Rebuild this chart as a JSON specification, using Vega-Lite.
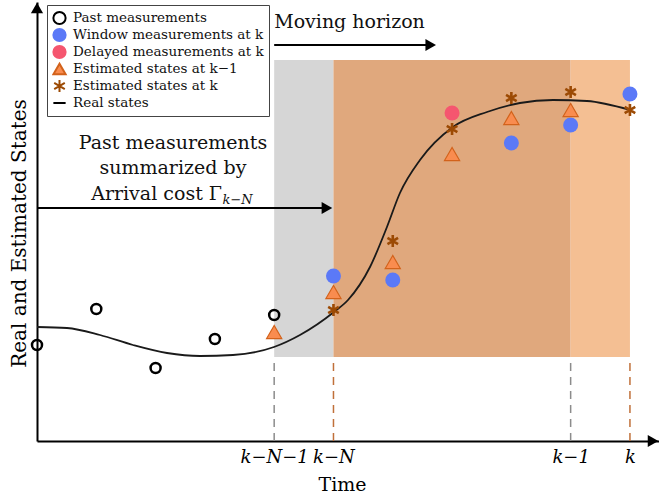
{
  "$schema": "https://vega.github.io/schema/vega-lite/v6.json",
  "width": 622,
  "height": 439,
  "autosize": {"type": "none"},
  "padding": {"left": 37, "top": 2, "right": 0, "bottom": 61},
  "background": "white",
  "config": {
    "view": {"stroke": null},
    "axis": {"grid": false, "ticks": false, "domainColor": "black", "domainWidth": 2, "titleFont": "DejaVu Serif", "titleFontWeight": "normal", "titleColor": "black", "labelColor": "black", "labelFont": "DejaVu Serif"},
    "legend": {"labelFont": "DejaVu Serif", "labelFontSize": 13.5, "labelColor": "#111", "clipHeight": 16, "rowPadding": 1, "symbolSize": 150, "symbolStrokeWidth": 2, "labelOffset": 6, "labelLimit": 300, "padding": 5, "strokeColor": "#444", "fillColor": "white"}
  },
  "datasets": {
    "pts": [
      {"t": 0, "v": 96, "s": "Past measurements"},
      {"t": 1, "v": 132, "s": "Past measurements"},
      {"t": 2, "v": 73, "s": "Past measurements"},
      {"t": 3, "v": 102, "s": "Past measurements"},
      {"t": 4, "v": 126, "s": "Past measurements"},
      {"t": 5, "v": 165, "s": "Window measurements at k"},
      {"t": 6, "v": 161, "s": "Window measurements at k"},
      {"t": 8, "v": 298, "s": "Window measurements at k"},
      {"t": 9, "v": 316, "s": "Window measurements at k"},
      {"t": 10, "v": 347, "s": "Window measurements at k"},
      {"t": 7, "v": 328, "s": "Delayed measurements at k"},
      {"t": 4, "v": 109, "s": "Estimated states at k−1"},
      {"t": 5, "v": 149, "s": "Estimated states at k−1"},
      {"t": 6, "v": 179, "s": "Estimated states at k−1"},
      {"t": 7, "v": 287, "s": "Estimated states at k−1"},
      {"t": 8, "v": 323, "s": "Estimated states at k−1"},
      {"t": 9, "v": 331, "s": "Estimated states at k−1"},
      {"t": 5, "v": 131, "s": "Estimated states at k"},
      {"t": 6, "v": 200, "s": "Estimated states at k"},
      {"t": 7, "v": 312, "s": "Estimated states at k"},
      {"t": 8, "v": 343, "s": "Estimated states at k"},
      {"t": 9, "v": 349, "s": "Estimated states at k"},
      {"t": 10, "v": 331, "s": "Estimated states at k"}
    ],
    "curve": [
      {"t": 0, "v": 114}, {"t": 0.506, "v": 113}, {"t": 1.062, "v": 106}, {"t": 1.619, "v": 96},
      {"t": 2.192, "v": 88}, {"t": 2.749, "v": 85}, {"t": 3.305, "v": 86}, {"t": 3.997, "v": 94},
      {"t": 4.435, "v": 106}, {"t": 5.008, "v": 129}, {"t": 5.245, "v": 141}, {"t": 5.616, "v": 174},
      {"t": 5.902, "v": 214}, {"t": 6.121, "v": 248}, {"t": 6.459, "v": 281}, {"t": 7.015, "v": 314},
      {"t": 7.589, "v": 329}, {"t": 8.145, "v": 338}, {"t": 8.702, "v": 341}, {"t": 9.275, "v": 340},
      {"t": 10.0, "v": 331}
    ],
    "regions": [
      {"t": 4, "t2": 5, "v": 84, "v2": 381, "r": "prev"},
      {"t": 5, "t2": 9, "v": 84, "v2": 381, "r": "both"},
      {"t": 9, "t2": 10, "v": 84, "v2": 381, "r": "curr"}
    ],
    "dashes": [
      {"t": 4, "v": 0, "v2": 84, "r": "g"},
      {"t": 5, "v": 0, "v2": 84, "r": "o"},
      {"t": 9, "v": 0, "v2": 84, "r": "g"},
      {"t": 10, "v": 0, "v2": 84, "r": "o"}
    ],
    "arrows": [
      {"t": 4, "t2": 6.6, "v": 396},
      {"t": 0, "t2": 4.85, "v": 233}
    ],
    "heads": [
      {"t": 6.64, "v": 396, "d": "r"},
      {"t": 4.89, "v": 233, "d": "r"},
      {"t": 10.39, "v": 0, "d": "r"},
      {"t": 0, "v": 433, "d": "u"}
    ]
  },
  "layer": [
    {
      "data": {"name": "regions"},
      "mark": {"type": "rect"},
      "encoding": {
        "x": {"field": "t", "type": "quantitative", "scale": {"domain": [0, 10.49], "nice": false, "zero": false},
              "axis": {"values": [4, 5, 9, 10], "labelExpr": "datum.value == 4 ? 'k−N−1' : datum.value == 5 ? 'k−N' : datum.value == 9 ? 'k−1' : 'k'", "labelFontStyle": "italic", "labelFontSize": 18, "labelPadding": 7, "title": "Time", "titleFontSize": 19, "titlePadding": 9, "titleX": 305}},
        "x2": {"field": "t2"},
        "y": {"field": "v", "type": "quantitative", "scale": {"domain": [0, 439], "nice": false},
              "axis": {"values": [], "labels": false, "title": "Real and Estimated States", "titleFontSize": 20, "titlePadding": 8, "titleY": 231}},
        "y2": {"field": "v2"},
        "color": {"field": "r", "type": "nominal", "scale": {"domain": ["prev", "both", "curr", "g", "o"], "range": ["#d6d6d6", "#e0a87d", "#f4bf93", "#8c8c8c", "#c0703a"]}, "legend": null}
      }
    },
    {
      "data": {"name": "dashes"},
      "mark": {"type": "rule", "strokeDash": [8, 6], "strokeWidth": 1.5},
      "encoding": {
        "x": {"field": "t", "type": "quantitative"},
        "y": {"field": "v", "type": "quantitative"},
        "y2": {"field": "v2"},
        "color": {"field": "r", "type": "nominal", "legend": null}
      }
    },
    {
      "data": {"name": "curve"},
      "mark": {"type": "line", "color": "#1a1a1a", "strokeWidth": 1.8, "interpolate": "monotone"},
      "encoding": {
        "x": {"field": "t", "type": "quantitative"},
        "y": {"field": "v", "type": "quantitative"}
      }
    },
    {
      "data": {"name": "arrows"},
      "mark": {"type": "rule", "color": "black", "strokeWidth": 2},
      "encoding": {
        "x": {"field": "t", "type": "quantitative"},
        "x2": {"field": "t2"},
        "y": {"field": "v", "type": "quantitative"}
      }
    },
    {
      "data": {"name": "heads"},
      "transform": [{"filter": "datum.d == 'r'"}],
      "mark": {"type": "point", "shape": "triangle-right", "filled": true, "color": "black", "opacity": 1, "size": 150},
      "encoding": {
        "x": {"field": "t", "type": "quantitative"},
        "y": {"field": "v", "type": "quantitative"}
      }
    },
    {
      "data": {"name": "heads"},
      "transform": [{"filter": "datum.d == 'u'"}],
      "mark": {"type": "point", "shape": "triangle-up", "filled": true, "color": "black", "opacity": 1, "size": 150},
      "encoding": {
        "x": {"field": "t", "type": "quantitative"},
        "y": {"field": "v", "type": "quantitative"}
      }
    },
    {
      "data": {"values": [{"t": 4, "v": 419, "label": "Moving horizon"}]},
      "mark": {"type": "text", "align": "left", "baseline": "middle", "font": "DejaVu Serif", "fontSize": 19, "color": "#111"},
      "encoding": {
        "x": {"field": "t", "type": "quantitative"},
        "y": {"field": "v", "type": "quantitative"},
        "text": {"field": "label"}
      }
    },
    {
      "data": {"values": [
        {"t": 2.293, "v": 298, "label": "Past measurements"},
        {"t": 2.293, "v": 273, "label": "summarized by"}
      ]},
      "mark": {"type": "text", "align": "center", "baseline": "middle", "font": "DejaVu Serif", "fontSize": 19, "color": "#111"},
      "encoding": {
        "x": {"field": "t", "type": "quantitative"},
        "y": {"field": "v", "type": "quantitative"},
        "text": {"field": "label"}
      }
    },
    {
      "data": {"values": [{"t": 3.12, "v": 247, "label": "Arrival cost Γ"}]},
      "mark": {"type": "text", "align": "right", "baseline": "middle", "font": "DejaVu Serif", "fontSize": 19, "color": "#111"},
      "encoding": {
        "x": {"field": "t", "type": "quantitative"},
        "y": {"field": "v", "type": "quantitative"},
        "text": {"field": "label"}
      }
    },
    {
      "data": {"values": [{"t": 3.13, "v": 241, "label": "k−N"}]},
      "mark": {"type": "text", "align": "left", "baseline": "middle", "font": "DejaVu Serif", "fontSize": 13, "fontStyle": "italic", "color": "#111"},
      "encoding": {
        "x": {"field": "t", "type": "quantitative"},
        "y": {"field": "v", "type": "quantitative"},
        "text": {"field": "label"}
      }
    },
    {
      "data": {"name": "pts"},
      "transform": [{"filter": "datum.s == 'Past measurements'"}],
      "mark": {"type": "point", "filled": true, "opacity": 1, "size": 100, "strokeWidth": 2.5},
      "encoding": {
        "x": {"field": "t", "type": "quantitative"},
        "y": {"field": "v", "type": "quantitative"},
        "fill": {"field": "s", "type": "nominal",
          "scale": {"domain": ["Past measurements", "Window measurements at k", "Delayed measurements at k", "Estimated states at k−1", "Estimated states at k", "Real states"],
                    "range": ["transparent", "#5b79f7", "#f5566f", "#f98c4f", "#9c4a04", "black"]},
          "legend": {"title": null, "orient": "none", "legendX": 10, "legendY": 3, "labelFont": "DejaVu Serif", "clipHeight": 16, "rowPadding": 1}},
        "stroke": {"field": "s", "type": "nominal",
          "scale": {"domain": ["Past measurements", "Window measurements at k", "Delayed measurements at k", "Estimated states at k−1", "Estimated states at k", "Real states"],
                    "range": ["black", "#5b79f7", "#f5566f", "#d2621b", "#9c4a04", "black"]}},
        "shape": {"field": "s", "type": "nominal",
          "scale": {"domain": ["Past measurements", "Window measurements at k", "Delayed measurements at k", "Estimated states at k−1", "Estimated states at k", "Real states"],
                    "range": ["circle", "circle", "circle", "triangle-up", "M0,-1L0,1M-0.866,-0.5L0.866,0.5M-0.866,0.5L0.866,-0.5", "stroke"]}}
      }
    },
    {
      "data": {"name": "pts"},
      "transform": [{"filter": "datum.s == 'Window measurements at k' || datum.s == 'Delayed measurements at k'"}],
      "mark": {"type": "point", "filled": true, "opacity": 1, "size": 225, "strokeWidth": 0},
      "encoding": {
        "x": {"field": "t", "type": "quantitative"},
        "y": {"field": "v", "type": "quantitative"},
        "fill": {"field": "s", "type": "nominal"},
        "stroke": {"field": "s", "type": "nominal"},
        "shape": {"field": "s", "type": "nominal"}
      }
    },
    {
      "data": {"name": "pts"},
      "transform": [{"filter": "datum.s == 'Estimated states at k−1'"}],
      "mark": {"type": "point", "filled": true, "opacity": 1, "size": 230, "strokeWidth": 1.2},
      "encoding": {
        "x": {"field": "t", "type": "quantitative"},
        "y": {"field": "v", "type": "quantitative"},
        "fill": {"field": "s", "type": "nominal"},
        "stroke": {"field": "s", "type": "nominal"},
        "shape": {"field": "s", "type": "nominal"}
      }
    },
    {
      "data": {"name": "pts"},
      "transform": [{"filter": "datum.s == 'Estimated states at k'"}],
      "mark": {"type": "point", "filled": true, "opacity": 1, "size": 150, "strokeWidth": 2.6},
      "encoding": {
        "x": {"field": "t", "type": "quantitative"},
        "y": {"field": "v", "type": "quantitative"},
        "fill": {"field": "s", "type": "nominal"},
        "stroke": {"field": "s", "type": "nominal"},
        "shape": {"field": "s", "type": "nominal"}
      }
    }
  ]
}
